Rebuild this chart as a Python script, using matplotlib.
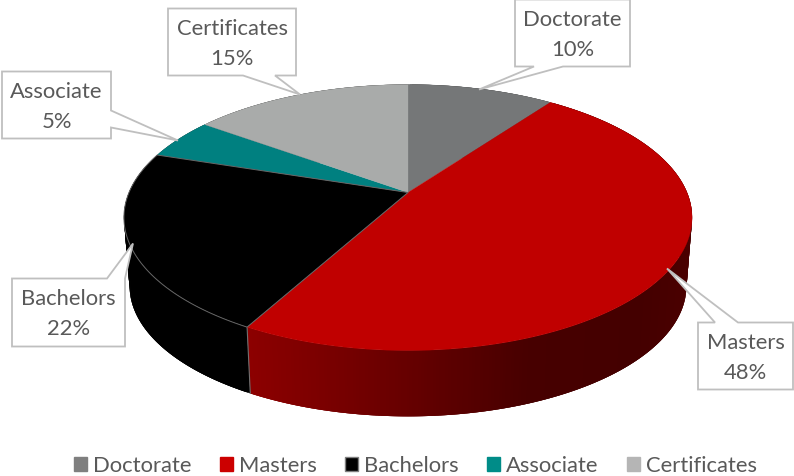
import numpy as np
import matplotlib
matplotlib.use("Agg")
import matplotlib.pyplot as plt
from matplotlib.patches import Patch, Polygon

plt.rcParams['font.family'] = ['Lato', 'DejaVu Sans']

categories = ["Doctorate", "Masters", "Bachelors", "Associate", "Certificates"]
shares = [10, 48, 22, 5, 15]
top_colors = ["#757778", "#C00000", "#000000", "#008080", "#A9ABAA"]
legend_colors = ["#7F7F7F", "#CC0000", "#000000", "#008C88", "#B5B5B5"]
TEXT = "#595959"
LINE = "#BFBFBF"

# perspective of the pie disc, in pixels
CX, CY_TOP, CY_BOT = 408.0, 192.0, 261.0
A, B, C = 279.0, 128.3, 0.188
BOT_SCALE = 0.98


def project(theta, r=1.0, bottom=False):
    u, v = r * np.sin(theta), r * np.cos(theta)
    d = 1 + C * v
    s, cy = (BOT_SCALE, CY_BOT) if bottom else (1.0, CY_TOP)
    return np.column_stack([CX + s * A * u / d, cy - s * B * v / d])


def wall_rgb(name, x):
    if name == "Masters":
        red = np.interp(x, [250, 400, 530, 640, 690], [0x8C, 0x68, 0x47, 0x44, 0x4A])
        return (red / 255, 0, 0)
    if name == "Bachelors":
        return (0, 0, 0)
    return (0.3, 0.3, 0.3)


fig = plt.figure(figsize=(7.94, 4.77), dpi=100, facecolor="white")
ax = fig.add_axes([0, 0, 1, 1])
ax.set_xlim(0, 794)
ax.set_ylim(475.5, -1.5)
ax.axis("off")

edges = np.radians(np.concatenate([[0], np.cumsum(shares)]) * 3.6)

# side walls: overlapping strips so no seams appear between them
for name, t0, t1 in zip(categories, edges[:-1], edges[1:]):
    n = max(2, int(np.degrees(t1 - t0)) * 2)
    ts = np.linspace(t0, t1, n + 1)
    top, bot = project(ts), project(ts, bottom=True)
    for i in range(n):
        j = min(i + 3, n)
        quad = np.vstack([top[i:j + 1], bot[i:j + 1][::-1]])
        col = wall_rgb(name, (top[i][0] + top[i + 1][0]) / 2)
        ax.add_patch(Polygon(quad, closed=True, fc=col, ec="none", zorder=2))

# edge between the Masters and Bachelors walls
seam = edges[2]
p_top, p_bot = project(np.array([seam])), project(np.array([seam]), bottom=True)
ax.plot([p_top[0, 0], p_bot[0, 0]], [p_top[0, 1], p_bot[0, 1]],
        color="#707070", lw=0.8, zorder=3)

# top faces
for name, t0, t1, col in zip(categories, edges[:-1], edges[1:], top_colors):
    ts = np.linspace(t0, t1, 200)
    rim = project(ts)
    centre = [[CX, CY_TOP]]
    pts = np.vstack([centre, rim])
    is_b = name == "Bachelors"
    ax.add_patch(Polygon(pts, closed=True, fc=col,
                         ec="#666666" if is_b else col,
                         lw=0.7 if is_b else 0.2,
                         zorder=5 if is_b else 4))

# callouts: box, pointer base/tip, text centre
callouts = {
    "Doctorate": ((515, -1, 630, 66), [(563, 66), (479, 89), (534, 66)], "bottom"),
    "Masters": ((698, 322, 793, 389), [(715, 322), (667, 268), (738, 322)], "top"),
    "Bachelors": ((12, 278, 125, 346), [(107, 278), (133, 243), (125, 278)], "top"),
    "Associate": ((2, 71, 111, 138), [(111, 110), (178, 140), (111, 127)], "right"),
    "Certificates": ((168, 8, 296, 75), [(275, 75), (300, 94), (243, 75)], "bottom"),
}


def callout_path(box, ptr, side):
    x0, y0, x1, y1 = box
    if side == "bottom":
        return [(x0, y0), (x1, y0), (x1, y1), *ptr, (x0, y1)]
    if side == "top":
        return [(x0, y0), *ptr, (x1, y0), (x1, y1), (x0, y1)]
    return [(x0, y0), (x1, y0), ptr[0], ptr[1], ptr[2], (x1, y1), (x0, y1)]


for name, share in zip(categories, shares):
    box, ptr, side = callouts[name]
    ax.add_patch(Polygon(callout_path(box, ptr, side), closed=True, fc="white",
                         ec=LINE, lw=1.3, zorder=6, joinstyle="miter"))
    xc = (box[0] + box[2]) / 2
    yc = (box[1] + box[3]) / 2
    ax.text(xc, yc - 14, name, ha="center", va="center", color=TEXT, fontsize=15.8, zorder=7)
    ax.text(xc, yc + 16, f"{share}%", ha="center", va="center", color=TEXT, fontsize=15.8, zorder=7)

handles = [Patch(fc=c, ec="#7F7F7F" if n == "Bachelors" else c, lw=1.0, label=n)
           for n, c in zip(categories, legend_colors)]
ax.legend(handles=handles, ncol=5, loc="center", bbox_to_anchor=(415.5, 465),
          bbox_transform=ax.transData, frameon=False, fontsize=15.8, labelcolor=TEXT,
          handlelength=0.62, handleheight=0.62, handletextpad=0.27, columnspacing=1.27,
          borderpad=0, borderaxespad=0)

fig.savefig("out.png", dpi=100)
